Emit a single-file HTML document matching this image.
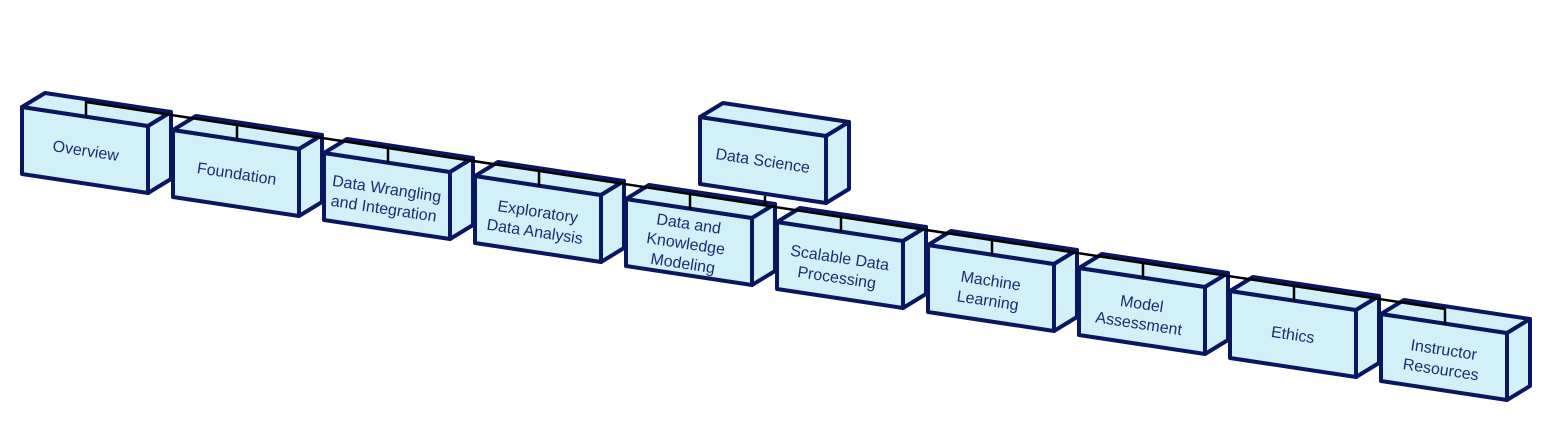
<!DOCTYPE html>
<html><head><meta charset="utf-8"><style>
html,body{margin:0;padding:0;background:#fff;}
svg{display:block;}
text{font-family:"Liberation Sans",sans-serif;font-size:16px;fill:#1e2c6e;}
</style></head><body>
<svg width="1551" height="434" viewBox="0 0 1551 434" xmlns="http://www.w3.org/2000/svg">
<defs>
<g id="box">
<polygon points="0,0 126,19 126,86 0,67" fill="#d2f0f7" stroke="#0b1660" stroke-width="4" stroke-linejoin="round"/>
<polygon points="0,0 23,-14 149,5 126,19" fill="#d2f0f7" stroke="#0b1660" stroke-width="4" stroke-linejoin="round"/>
<polygon points="126,19 149,5 149,72 126,86" fill="#d2f0f7" stroke="#0b1660" stroke-width="4" stroke-linejoin="round"/>
</g>
</defs>
<use href="#box" x="22" y="107"/>
<use href="#box" x="173" y="130"/>
<use href="#box" x="324" y="153"/>
<use href="#box" x="475" y="176"/>
<use href="#box" x="626" y="199"/>
<use href="#box" x="777" y="222"/>
<use href="#box" x="928" y="245"/>
<use href="#box" x="1079" y="268"/>
<use href="#box" x="1230" y="291"/>
<use href="#box" x="1381" y="314"/>
<use href="#box" x="700" y="117"/>
<g stroke="#000" stroke-width="2.5" fill="none">
<polyline points="86,117 86,102 1445,309 1445,325"/>
<line x1="237" y1="125" x2="237" y2="140"/>
<line x1="388" y1="148" x2="388" y2="163"/>
<line x1="539" y1="171" x2="539" y2="186"/>
<line x1="690" y1="194" x2="690" y2="209"/>
<line x1="841" y1="217" x2="841" y2="232"/>
<line x1="992" y1="240" x2="992" y2="255"/>
<line x1="1143" y1="263" x2="1143" y2="278"/>
<line x1="1294" y1="286" x2="1294" y2="301"/>
<line x1="765" y1="196" x2="765" y2="205"/>
</g>
<g text-anchor="middle">
<text transform="translate(85,156) rotate(8.6)">Overview</text>
<text transform="translate(236,179) rotate(8.6)">Foundation</text>
<text transform="translate(386,194) rotate(8.6)"><tspan x="0" y="0">Data Wrangling</tspan><tspan x="0" y="20">and Integration</tspan></text>
<text transform="translate(537,217) rotate(8.6)"><tspan x="0" y="0">Exploratory</tspan><tspan x="0" y="20">Data Analysis</tspan></text>
<text transform="translate(688,229) rotate(8.6)"><tspan x="0" y="0">Data and</tspan><tspan x="0" y="20">Knowledge</tspan><tspan x="0" y="40">Modeling</tspan></text>
<text transform="translate(839,263) rotate(8.6)"><tspan x="0" y="0">Scalable Data</tspan><tspan x="0" y="20">Processing</tspan></text>
<text transform="translate(990,286) rotate(8.6)"><tspan x="0" y="0">Machine</tspan><tspan x="0" y="20">Learning</tspan></text>
<text transform="translate(1141,309) rotate(8.6)"><tspan x="0" y="0">Model</tspan><tspan x="0" y="20">Assessment</tspan></text>
<text transform="translate(1292,340) rotate(8.6)">Ethics</text>
<text transform="translate(1443,355) rotate(8.6)"><tspan x="0" y="0">Instructor</tspan><tspan x="0" y="20">Resources</tspan></text>
<text transform="translate(762,166) rotate(8.6)">Data Science</text>
</g>
</svg>
</body></html>
